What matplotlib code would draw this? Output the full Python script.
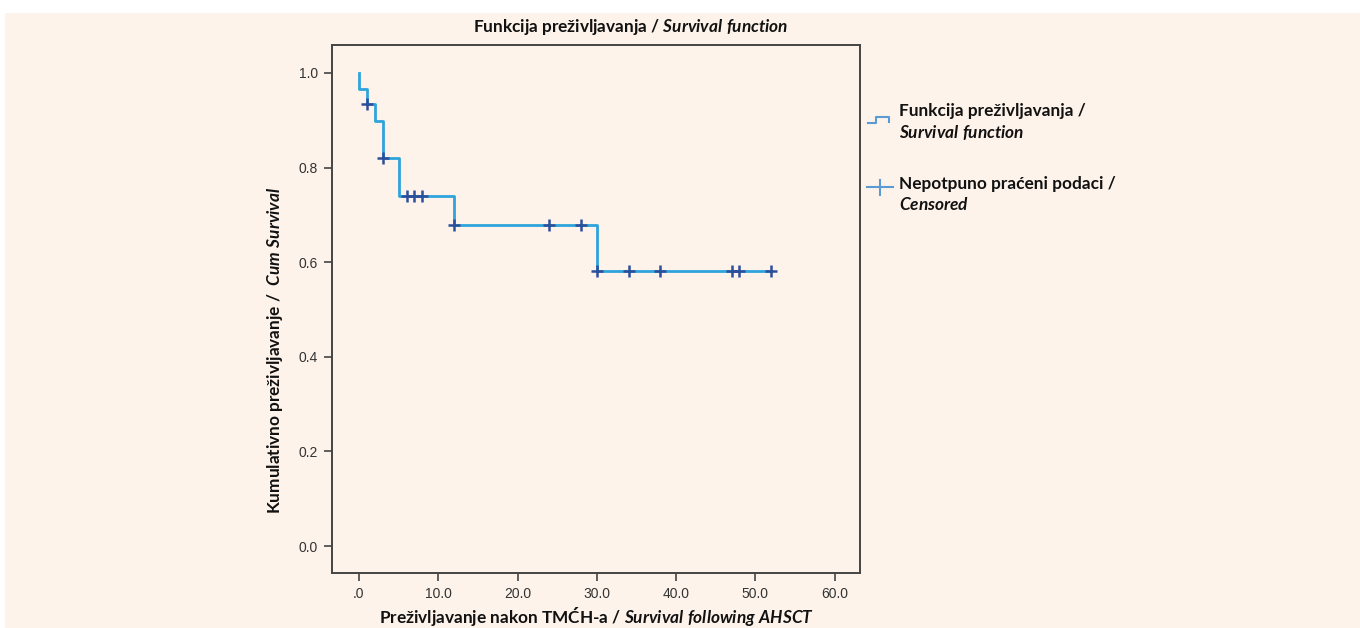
import matplotlib
matplotlib.use("Agg")
import matplotlib.pyplot as plt
from matplotlib.lines import Line2D
from matplotlib.patches import Rectangle

# ---- data ----
step_times = [0.0, 0.0, 1.0, 2.0, 3.0, 5.0, 12.0, 30.0, 52.0]
step_surv = [1.0, 0.967, 0.935, 0.899, 0.821, 0.740, 0.678, 0.581, 0.581]
censor_times = [1, 3, 6, 7, 8, 12, 24, 28, 30, 34, 38, 47, 48, 52]
censor_surv = [0.935, 0.821, 0.740, 0.740, 0.740, 0.678, 0.678, 0.678,
               0.581, 0.581, 0.581, 0.581, 0.581, 0.581]
x_ticks = [0, 10, 20, 30, 40, 50, 60]
x_tick_labels = [".0", "10.0", "20.0", "30.0", "40.0", "50.0", "60.0"]
y_ticks = [0.0, 0.2, 0.4, 0.6, 0.8, 1.0]
y_tick_labels = ["0.0", "0.2", "0.4", "0.6", "0.8", "1.0"]

title_txt = r"Funkcija preživljavanja / $\mathit{Survival\ function}$"
xlabel_txt = r"Preživljavanje nakon TMĆH-a / $\mathit{Survival\ following\ AHSCT}$"
ylabel_txt = r"Kumulativno preživljavanje /  $\mathit{Cum\ Survival}$"
leg1 = [r"Funkcija preživljavanja /", r"$\mathit{Survival\ function}$"]
leg2 = [r"Nepotpuno praćeni podaci /", r"$\mathit{Censored}$"]

plt.rcParams['mathtext.fontset'] = 'custom'
plt.rcParams['mathtext.rm'] = 'Lato:bold'
plt.rcParams['mathtext.bf'] = 'Lato:bold'
plt.rcParams['mathtext.it'] = 'Lato:bold:italic'

W, H = 1360, 628
fig = plt.figure(figsize=(W / 100, H / 100), dpi=100, facecolor="white")
bg = "#fdf3ea"
fig.add_artist(Rectangle((5 / W, 0), 1, 1 - 13 / H, transform=fig.transFigure,
                         facecolor=bg, edgecolor="none", zorder=-10))

def fx(px):
    return px / W

def fy(py):
    return 1 - py / H

ax = fig.add_axes([fx(332), fy(573), fx(860) - fx(332), fy(45) - fy(573)])
ax.set_facecolor(bg)
ax.set_xlim(-3.4, 63.2)
ax.set_ylim(-0.057, 1.059)

line_col = "#2ea3dc"
cens_col = "#2c4f9a"
ax.step(step_times, step_surv, where="post", color=line_col, lw=2.0, zorder=2)
ax.plot(censor_times, censor_surv, linestyle="none", marker="+", ms=9, mew=1.8,
        color=cens_col, zorder=3)

ax.set_xticks(x_ticks)
ax.set_xticklabels(x_tick_labels)
ax.set_yticks(y_ticks)
ax.set_yticklabels(y_tick_labels)
ax.tick_params(axis="both", direction="out", length=6, width=1.2, color="#444444",
               labelsize=10, labelcolor="#333333", pad=4,
               labelfontfamily="Liberation Sans")
for s in ax.spines.values():
    s.set_color("#444444")
    s.set_linewidth(1.4)

tf = dict(fontfamily="Lato", fontweight="bold", fontsize=12.4, color="#111111")
fig.text(fx(631), fy(27), title_txt, ha="center", va="center", **tf)
fig.text(fx(597), fy(616), xlabel_txt, ha="center", va="center", **tf)
fig.text(fx(275), fy(350), ylabel_txt, ha="center", va="center", rotation=90, **tf)

# legend
fig.text(fx(899), fy(111), leg1[0], ha="left", va="center", **tf)
fig.text(fx(899), fy(133), leg1[1], ha="left", va="center", **tf)
fig.text(fx(899), fy(184), leg2[0], ha="left", va="center", **tf)
fig.text(fx(899), fy(205), leg2[1], ha="left", va="center", **tf)
leg_col = "#5b9bd5"
fig.add_artist(Line2D([fx(868), fx(876), fx(876), fx(889), fx(889)],
                      [fy(123), fy(123), fy(117), fy(117), fy(122)],
                      transform=fig.transFigure, color=leg_col, lw=1.5))
fig.add_artist(Line2D([fx(867), fx(893)], [fy(187), fy(187)],
                      transform=fig.transFigure, color=leg_col, lw=1.5))
fig.add_artist(Line2D([fx(880), fx(880)], [fy(180), fy(195)],
                      transform=fig.transFigure, color=leg_col, lw=1.5))

fig.savefig("out.png", dpi=100, facecolor=fig.get_facecolor())
